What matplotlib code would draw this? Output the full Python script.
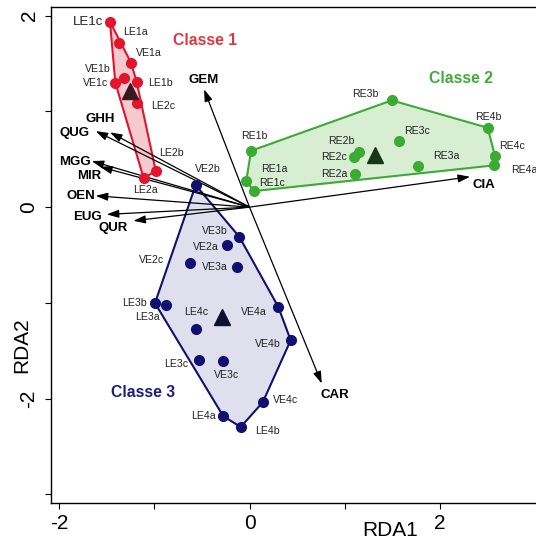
import numpy as np
import matplotlib
matplotlib.use("Agg")
import matplotlib.pyplot as plt

plt.rcParams['font.family'] = ['Liberation Sans', 'DejaVu Sans']

# ---- Sample scores on RDA1 / RDA2 ----
names1 = ["LE1c", "LE1a", "VE1a", "VE1b", "VE1c", "LE1b", "LE2c", "LE2b", "LE2a"]
x1 = [-1.464, -1.369, -1.243, -1.314, -1.408, -1.184, -1.177, -0.984, -1.110]
y1 = [1.936, 1.711, 1.508, 1.351, 1.299, 1.306, 1.090, 0.379, 0.300]

names2 = ["RE1a", "RE1b", "RE1c", "RE2a", "RE2b", "RE2c",
          "RE3a", "RE3b", "RE3c", "RE4a", "RE4b", "RE4c"]
x2 = [-0.034, 0.016, 0.044, 1.110, 1.149, 1.100, 1.765, 1.492, 1.572, 2.566, 2.499, 2.576]
y2 = [0.275, 0.588, 0.167, 0.342, 0.575, 0.522, 0.425, 1.115, 0.693, 0.436, 0.829, 0.533]

names3 = ["VE2a", "VE2b", "VE2c", "VE3a", "VE3b", "VE3c", "VE4a", "VE4b", "VE4c",
          "LE3a", "LE3b", "LE3c", "LE4a", "LE4b", "LE4c"]
x3 = [-0.239, -0.565, -0.624, -0.131, -0.107, -0.275, 0.302, 0.432, 0.139,
      -0.879, -0.992, -0.527, -0.275, -0.092, -0.561]
y3 = [-0.397, 0.230, -0.588, -0.624, -0.310, -1.606, -1.042, -1.390, -2.038,
      -1.024, -1.003, -1.596, -2.184, -2.296, -1.275]

# ---- Environmental variables (biplot arrows) ----
env_names = ["GEM", "CAR", "CIA", "GHH", "QUG", "MGG", "MIR", "OEN", "EUG", "QUR"]
env_x = [-0.477, 0.758, 2.314, -1.464, -1.614, -1.656, -1.569, -1.614, -1.498, -1.219]
env_y = [1.230, -1.842, 0.317, 0.781, 0.794, 0.481, 0.421, 0.118, -0.076, -0.143]

class_names = ["Classe 1", "Classe 2", "Classe 3"]

# ---- Layout: label offsets (px: right, up) and alignment ----
label_offsets = {
    "LE1c": (-7, 0, "right"), "LE1a": (4, 11, "left"), "VE1a": (5, 10, "left"),
    "VE1b": (-14, 9, "right"), "VE1c": (-7, 0, "right"), "LE1b": (11, -1, "left"),
    "LE2c": (14, -3, "left"), "LE2b": (3, 18, "left"), "LE2a": (2, -12, "center"),
    "RE3b": (-13, 6, "right"), "RE4b": (1, 11, "center"), "RE4c": (4, 10, "left"),
    "RE4a": (17, -5, "left"), "RE3c": (5, 10, "left"), "RE3a": (15, 10, "left"),
    "RE2b": (-5, 11, "right"), "RE2c": (-7, 0, "right"), "RE2a": (-8, 0, "right"),
    "RE1b": (3, 15, "center"), "RE1a": (15, 12, "left"), "RE1c": (5, 8, "left"),
    "VE2b": (-1, 16, "left"), "VE3b": (-12, 6, "right"), "VE2a": (-8, -2, "right"),
    "VE2c": (-26, 3, "right"), "VE3a": (-9, 0, "right"), "LE3b": (-8, 0, "right"),
    "LE3a": (-6, -12, "right"), "LE4c": (0, 17, "center"), "VE4a": (-12, -5, "right"),
    "VE4b": (-10, -4, "right"), "LE3c": (-11, -4, "right"), "VE3c": (3, -14, "center"),
    "VE4c": (10, 2, "left"), "LE4a": (-8, 0, "right"), "LE4b": (14, -4, "left"),
}
env_label_pos = {
    "GEM": (-0.485, 1.327), "GHH": (-1.569, 0.916), "QUG": (-1.831, 0.770),
    "MGG": (-1.836, 0.473), "MIR": (-1.684, 0.327), "OEN": (-1.768, 0.112),
    "EUG": (-1.705, -0.101), "QUR": (-1.427, -0.223), "CIA": (2.461, 0.230),
    "CAR": (0.897, -1.964),
}
class_label_pos = [(-0.467, 1.738), (2.221, 1.345), (-1.114, -1.936)]

styles = [
    dict(edge="#e3142d", fill="#f6c9cf", tri="#3a1820", text="#e0363f"),
    dict(edge="#3bab33", fill="#d8eed3", tri="#16381a", text="#40ad36"),
    dict(edge="#101070", fill="#dfdfee", tri="#0d1030", text="#1b1b85"),
]


def convex_hull(xs, ys):
    pts = sorted(set(zip(xs, ys)))

    def cross(o, a, b):
        return (a[0] - o[0]) * (b[1] - o[1]) - (a[1] - o[1]) * (b[0] - o[0])

    lower, upper = [], []
    for p in pts:
        while len(lower) >= 2 and cross(lower[-2], lower[-1], p) <= 0:
            lower.pop()
        lower.append(p)
    for p in reversed(pts):
        while len(upper) >= 2 and cross(upper[-2], upper[-1], p) <= 0:
            upper.pop()
        upper.append(p)
    return np.array(lower[:-1] + upper[:-1])


W, H = 536, 546
fig = plt.figure(figsize=(W / 100, H / 100), dpi=100)
ax = fig.add_axes([51 / W, (H - 503) / H, (W - 51) / W, (503 - 7) / H])
ax.set_xlim(-2.083, 3.006)
ax.set_ylim(-3.09, 2.09)

groups = [(names1, x1, y1), (names2, x2, y2), (names3, x3, y3)]

# hulls
for (names, xs, ys), st in zip(groups, styles):
    hull = convex_hull(xs, ys)
    ax.fill(hull[:, 0], hull[:, 1], facecolor=st["fill"], edgecolor=st["edge"],
            lw=1.5, zorder=1)

# environmental arrows
for name, ex, ey in zip(env_names, env_x, env_y):
    ax.annotate("", xy=(ex, ey), xytext=(0, 0),
                arrowprops=dict(arrowstyle="-|>,head_length=0.6,head_width=0.2",
                                color="black", lw=0.9, shrinkA=0, shrinkB=0,
                                mutation_scale=12),
                zorder=2)
    lx, ly = env_label_pos[name]
    ax.text(lx, ly, name, ha="center", va="center", fontsize=9.5,
            fontweight="bold", color="black", zorder=5)

# samples, centroids, labels
for (names, xs, ys), st in zip(groups, styles):
    ax.plot(xs, ys, "o", ms=7, color=st["edge"], mec=st["edge"], zorder=3)
    ax.plot(np.mean(xs), np.mean(ys), "^", ms=11, color=st["tri"], zorder=4)
    for n, px, py in zip(names, xs, ys):
        dx, dy, ha = label_offsets[n]
        fs = 9.5 if n == "LE1c" else 7.6
        ax.annotate(n, (px, py), xytext=(dx * 0.72, dy * 0.72),
                    textcoords="offset points", ha=ha, va="center",
                    fontsize=fs, color="#222222", zorder=5)

for cname, (cx, cy), st in zip(class_names, class_label_pos, styles):
    ax.text(cx, cy, cname, ha="center", va="center", fontsize=11.3,
            fontweight="bold", color=st["text"], zorder=5)

# axes styling
ax.spines["right"].set_visible(False)
for s in ["left", "bottom", "top"]:
    ax.spines[s].set_linewidth(1.0)
ax.set_xticks([-2, -1, 0, 1, 2])
ax.set_xticklabels(["-2", "", "0", "", "2"])
ax.set_yticks([-3, -2, -1, 0, 1, 2])
ax.set_yticklabels(["", "-2", "", "0", "", "2"], rotation=90, va="center")
ax.tick_params(axis="both", direction="out", length=4, width=0.8,
               labelsize=15, colors="black")
ax.tick_params(axis="x", pad=4)
ax.tick_params(axis="y", pad=5)

fig.text(390 / W, 1 - 531 / H, "RDA1", ha="center", va="center", fontsize=15)
fig.text(22 / W, 1 - 345 / H, "RDA2", ha="center", va="center",
         fontsize=15, rotation=90)

fig.savefig("out.png", dpi=100)
